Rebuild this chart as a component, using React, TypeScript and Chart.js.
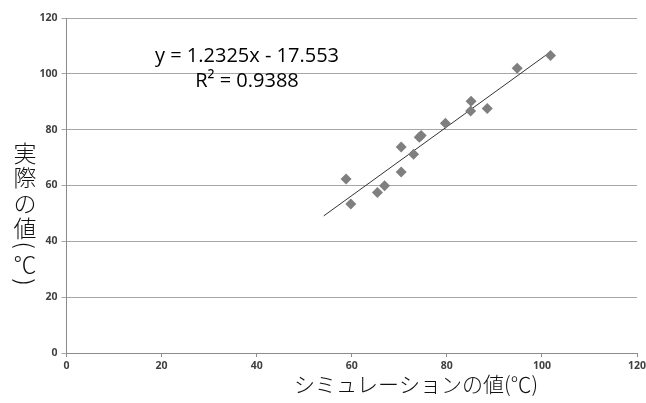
import React, { useEffect, useRef } from "react";
import { Chart, registerables } from "chart.js";

Chart.register(...registerables);

// Scatter data (simulation value, actual value)
const simValues = [58.8, 59.8, 65.4, 66.9, 70.4, 70.4, 73.0, 74.2, 74.6, 79.7, 85.0, 85.1, 88.5, 94.8, 101.8];
const actualValues = [62.3, 53.4, 57.5, 59.9, 64.8, 73.8, 71.2, 77.3, 77.9, 82.3, 86.7, 90.2, 87.6, 102.0, 106.6];

// Trend line endpoints (y = 1.2325x - 17.553)
const trendX = [54.1, 101.9];
const trendY = [49.1, 108.0];

const axisTicks = [0, 20, 40, 60, 80, 100, 120];
const xTitle = "シミュレーションの値(℃)";
const yTitleChars = ["実", "際", "の", "値", "(", "℃", ")"];
const equationText = "y = 1.2325x - 17.553";
const r2Text = "R² = 0.9388";

function drawVertical(ctx: any, x: number, ys: number[], size: number) {
  ctx.font = `300 ${size}px 'Noto Sans CJK JP', sans-serif`;
  yTitleChars.forEach((c, i) => {
    if (c === "(" || c === ")") {
      ctx.save();
      ctx.translate(x, ys[i]);
      ctx.rotate(Math.PI / 2);
      ctx.fillText(c, 0, 0);
      ctx.restore();
    } else {
      ctx.fillText(c, x, ys[i]);
    }
  });
}

const textPlugin = {
  id: "customText",
  afterDraw(chart: any) {
    const ctx = chart.ctx;
    ctx.save();
    ctx.fillStyle = "#000000";
    ctx.textAlign = "center";
    ctx.textBaseline = "alphabetic";
    // Equation
    ctx.font = "20px 'Open Sans', Lato, sans-serif";
    ctx.fillText(equationText, 247, 62);
    ctx.fillText(r2Text, 247, 87);
    // X title
    ctx.textBaseline = "middle";
    ctx.font = "300 21px 'Noto Sans CJK JP', sans-serif";
    ctx.fillStyle = "#111111";
    ctx.fillText(xTitle, 416, 384);
    // Y title (vertical)
    drawVertical(ctx, 25, [153, 177, 203, 228, 245, 264, 282], 23);
    ctx.restore();
  },
};

export default function App() {
  const ref = useRef<HTMLCanvasElement>(null);
  useEffect(() => {
    const tickFont = { family: "'Open Sans', Lato, sans-serif", size: 10.5, weight: "bold" as const };
    const chart = new Chart(ref.current!, {
      type: "scatter",
      data: {
        datasets: [
          {
            label: "data",
            data: simValues.map((x, i) => ({ x, y: actualValues[i] })),
            pointStyle: "rectRot",
            pointRadius: 5.5,
            backgroundColor: "#7f7f7f",
            borderColor: "#7f7f7f",
            borderWidth: 0,
          },
          {
            label: "trend",
            type: "line",
            data: trendX.map((x, i) => ({ x, y: trendY[i] })),
            showLine: true,
            pointRadius: 0,
            borderColor: "#333333",
            borderWidth: 1,
            fill: false,
          } as any,
        ],
      },
      options: {
        animation: false,
        responsive: false,
        layout: { padding: { top: 18, right: 9, left: 0, bottom: 0 } },
        plugins: { legend: { display: false }, tooltip: { enabled: false } },
        scales: {
          x: {
            type: "linear",
            min: 0,
            max: 120,
            afterBuildTicks: (s: any) => {
              s.ticks = axisTicks.map((v) => ({ value: v }));
            },
            afterFit: (s: any) => {
              s.height = 50;
              s.paddingLeft = 0;
              s.paddingRight = 0;
            },
            grid: { display: true, drawOnChartArea: false, color: "#8c8c8c", tickLength: 4 },
            border: { color: "#8c8c8c", width: 1 },
            ticks: {
              color: "#404040",
              padding: 3,
              maxRotation: 0,
              autoSkip: false,
              font: tickFont,
            },
          },
          y: {
            type: "linear",
            min: 0,
            max: 120,
            afterBuildTicks: (s: any) => {
              s.ticks = axisTicks.map((v) => ({ value: v }));
            },
            afterFit: (s: any) => {
              s.width = 66.5;
              s.paddingTop = 0;
              s.paddingBottom = 0;
            },
            grid: { color: "#a6a6a6", tickLength: 5, lineWidth: 1 },
            border: { color: "#8c8c8c", width: 1 },
            ticks: {
              color: "#404040",
              padding: 4,
              font: tickFont,
            },
          },
        },
      },
      plugins: [textPlugin],
    });
    return () => chart.destroy();
  }, []);
  return (
    <div style={{ position: "absolute", left: 0, top: 0, width: 646, height: 403, background: "#fff" }}>
      <canvas ref={ref} width={646} height={403} />
    </div>
  );
}
